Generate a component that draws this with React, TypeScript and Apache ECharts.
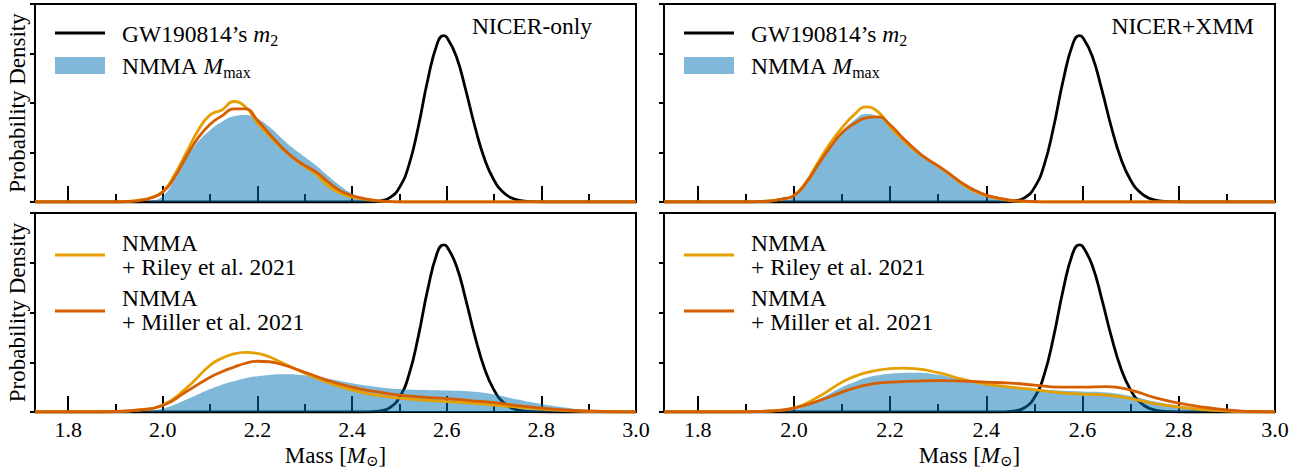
import React, { useEffect, useRef } from 'react';
import * as echarts from 'echarts';

// ---------- data ----------
const MASS_MIN = 1.73;
const MASS_MAX = 3.0;
const massMajorTicks = [1.8, 2.0, 2.2, 2.4, 2.6, 2.8, 3.0];
const massMinorTicks = [1.9, 2.1, 2.3, 2.5, 2.7, 2.9];
const densityTicks = [0, 1, 2, 3, 4];

// GW190814 secondary mass (same in every panel)
const gwMass = [1.73, 2.4, 2.44, 2.46, 2.48, 2.5, 2.52, 2.54, 2.56, 2.58, 2.593, 2.6, 2.62, 2.64, 2.66, 2.68, 2.7, 2.72, 2.74, 2.76, 2.78, 2.82, 3.0];
const gwDensity = [0, 0, 0.004, 0.022, 0.09, 0.29, 0.74, 1.52, 2.47, 3.2, 3.36, 3.33, 2.95, 2.27, 1.51, 0.87, 0.44, 0.19, 0.07, 0.024, 0.006, 0, 0];

// top row mass grid
const massTop = [1.73, 1.9, 1.925, 1.95, 1.975, 2.0, 2.025, 2.05, 2.075, 2.1, 2.125, 2.15, 2.175, 2.2, 2.225, 2.25, 2.275, 2.3, 2.325, 2.35, 2.375, 2.4, 2.425, 2.45, 2.475, 2.5, 2.525, 2.55, 3.0];
// NICER-only (top left)
const nicerOnlyMmax = [0, 0, 0, 0, 0.02, 0.12, 0.45, 0.88, 1.22, 1.45, 1.62, 1.73, 1.76, 1.68, 1.52, 1.3, 1.09, 0.91, 0.73, 0.52, 0.33, 0.17, 0.07, 0.02, 0, 0, 0, 0, 0];
const nicerOnlyRiley = [0, 0, 0.01, 0.04, 0.09, 0.21, 0.55, 1.0, 1.45, 1.76, 1.86, 2.03, 1.92, 1.6, 1.34, 1.1, 0.89, 0.72, 0.55, 0.32, 0.18, 0.1, 0.06, 0.03, 0.01, 0, 0, 0, 0];
const nicerOnlyMiller = [0, 0, 0.01, 0.03, 0.08, 0.2, 0.5, 0.92, 1.3, 1.57, 1.74, 1.88, 1.88, 1.65, 1.38, 1.12, 0.9, 0.74, 0.6, 0.4, 0.23, 0.13, 0.07, 0.03, 0.01, 0, 0, 0, 0];
// NICER+XMM (top right)
const xmmMmax = [0, 0, 0, 0, 0.02, 0.1, 0.38, 0.75, 1.12, 1.42, 1.65, 1.78, 1.72, 1.52, 1.28, 1.06, 0.87, 0.72, 0.56, 0.38, 0.22, 0.13, 0.06, 0.02, 0, 0, 0, 0, 0];
const xmmRiley = [0, 0, 0.01, 0.02, 0.06, 0.13, 0.4, 0.8, 1.18, 1.5, 1.76, 1.92, 1.82, 1.52, 1.27, 1.05, 0.88, 0.72, 0.55, 0.36, 0.22, 0.13, 0.07, 0.03, 0.01, 0, 0, 0, 0];
const xmmMiller = [0, 0, 0.01, 0.02, 0.06, 0.13, 0.38, 0.75, 1.1, 1.4, 1.58, 1.7, 1.72, 1.56, 1.31, 1.08, 0.88, 0.73, 0.56, 0.38, 0.24, 0.14, 0.08, 0.04, 0.02, 0.01, 0, 0, 0];

// bottom row mass grid
const massBottom = [1.73, 1.85, 1.9, 1.95, 2.0, 2.05, 2.1, 2.125, 2.15, 2.175, 2.2, 2.225, 2.25, 2.3, 2.35, 2.4, 2.45, 2.5, 2.55, 2.6, 2.65, 2.7, 2.75, 2.8, 2.85, 2.9, 2.95, 3.0];
// bottom left
const nicerOnlyWideMmax = [0, 0, 0, 0.01, 0.07, 0.25, 0.46, 0.55, 0.62, 0.68, 0.72, 0.745, 0.76, 0.74, 0.67, 0.58, 0.51, 0.46, 0.44, 0.43, 0.41, 0.35, 0.25, 0.16, 0.09, 0.03, 0.005, 0];
const nicerOnlyWideRiley = [0, 0, 0.01, 0.04, 0.14, 0.48, 0.94, 1.08, 1.17, 1.2, 1.18, 1.11, 1.0, 0.78, 0.59, 0.44, 0.34, 0.28, 0.24, 0.21, 0.18, 0.14, 0.1, 0.06, 0.03, 0.01, 0, 0];
const nicerOnlyWideMiller = [0, 0, 0.01, 0.04, 0.13, 0.41, 0.7, 0.81, 0.9, 0.98, 1.02, 1.01, 0.96, 0.8, 0.63, 0.5, 0.41, 0.34, 0.3, 0.27, 0.23, 0.19, 0.13, 0.08, 0.04, 0.02, 0.005, 0];
// bottom right
const xmmWideMmax = [0, 0, 0, 0.01, 0.05, 0.25, 0.5, 0.6, 0.69, 0.74, 0.77, 0.785, 0.79, 0.75, 0.65, 0.56, 0.5, 0.46, 0.43, 0.41, 0.39, 0.32, 0.21, 0.13, 0.07, 0.02, 0.005, 0];
const xmmWideRiley = [0, 0, 0.005, 0.02, 0.08, 0.3, 0.6, 0.71, 0.79, 0.84, 0.87, 0.88, 0.87, 0.79, 0.66, 0.56, 0.5, 0.45, 0.39, 0.36, 0.34, 0.27, 0.17, 0.1, 0.05, 0.02, 0.005, 0];
const xmmWideMiller = [0, 0, 0.005, 0.02, 0.08, 0.22, 0.4, 0.48, 0.54, 0.58, 0.6, 0.61, 0.62, 0.63, 0.62, 0.6, 0.58, 0.54, 0.5, 0.5, 0.51, 0.44, 0.29, 0.18, 0.1, 0.04, 0.01, 0];

// texts
const panelTitles = ['NICER-only', 'NICER+XMM'];
const yAxisTitle = 'Probability Density';
const xAxisTitle = '{r|Mass [}{i|M}{s|⊙}{r|]}';
const legendGW = '{r|GW190814’s }{i|m}{s|2}';
const legendMmax = '{r|NMMA }{i|M}{s|max}';
const legendRiley = ['NMMA', '+ Riley et al. 2021'];
const legendMiller = ['NMMA', '+ Miller et al. 2021'];

// ---------- styling ----------
const SERIF = "'Liberation Serif', 'DejaVu Serif', serif";
const BLUE_FILL = 'rgba(0,114,178,0.5)';
const RILEY = '#E69F00';
const MILLER = '#D55E00';
const LW = 2.8;
const LEGEND_FS = 23.5;

const panels = [
  { left: 35, top: 4, width: 601, height: 198, labels: false, mass: massTop, mmax: nicerOnlyMmax, riley: nicerOnlyRiley, miller: nicerOnlyMiller },
  { left: 664, top: 4, width: 611, height: 198, labels: false, mass: massTop, mmax: xmmMmax, riley: xmmRiley, miller: xmmMiller },
  { left: 35, top: 213, width: 601, height: 199, labels: true, mass: massBottom, mmax: nicerOnlyWideMmax, riley: nicerOnlyWideRiley, miller: nicerOnlyWideMiller },
  { left: 664, top: 213, width: 611, height: 199, labels: true, mass: massBottom, mmax: xmmWideMmax, riley: xmmWideRiley, miller: xmmWideMiller },
];

const pairs = (xs: number[], ys: number[]) => xs.map((x, i) => [x, ys[i]]);

const rich = (size: number, sub: number, pad: number) => ({
  r: { fontFamily: SERIF, fontSize: size, lineHeight: 32, color: '#000' },
  i: { fontFamily: SERIF, fontSize: size, fontStyle: 'italic', lineHeight: 32, color: '#000' },
  s: { fontFamily: SERIF, fontSize: sub, padding: [pad, 0, 0, 0], color: '#000' },
});

function buildOption() {
  const grid: any[] = [];
  const xAxis: any[] = [];
  const yAxis: any[] = [];
  const series: any[] = [];
  const graphic: any[] = [];

  panels.forEach((p, i) => {
    grid.push({
      left: p.left, top: p.top, width: p.width, height: p.height,
      show: true, borderColor: '#000', borderWidth: 2, backgroundColor: 'transparent',
      containLabel: false, outerBoundsMode: 'none',
    });
    xAxis.push({
      type: 'value', gridIndex: i, min: MASS_MIN, max: MASS_MAX, position: 'bottom',
      axisLine: { show: false, onZero: false }, splitLine: { show: false },
      axisTick: { show: true, inside: true, length: 16, lineStyle: { color: '#000', width: 2 }, customValues: massMajorTicks },
      axisLabel: {
        show: p.labels, customValues: massMajorTicks, formatter: (v: number) => v.toFixed(1),
        fontFamily: SERIF, fontSize: 22, color: '#000', margin: 6,
      },
    });
    xAxis.push({
      type: 'value', gridIndex: i, min: MASS_MIN, max: MASS_MAX, position: 'bottom',
      axisLine: { show: false, onZero: false }, splitLine: { show: false },
      axisTick: { show: true, inside: true, length: 8, lineStyle: { color: '#000', width: 2 }, customValues: massMinorTicks },
      axisLabel: { show: false },
    });
    yAxis.push({
      type: 'value', gridIndex: i, min: 0, max: 4, interval: 1,
      axisLine: { show: false }, splitLine: { show: false },
      axisTick: { show: true, inside: false, length: 5, lineStyle: { color: '#000', width: 2 }, customValues: densityTicks },
      axisLabel: { show: false },
    });

    const common = { xAxisIndex: 2 * i, yAxisIndex: i, showSymbol: false, symbol: 'none', smooth: 0.5, silent: true };
    series.push({ ...common, type: 'line', name: 'GW190814', data: pairs(gwMass, gwDensity), lineStyle: { color: '#000', width: LW }, z: 2 });
    series.push({ ...common, type: 'line', name: 'NMMA Mmax', data: pairs(p.mass, p.mmax), lineStyle: { width: 0, color: BLUE_FILL }, areaStyle: { color: BLUE_FILL, opacity: 1 }, z: 3 });
    series.push({ ...common, type: 'line', name: 'Riley', data: pairs(p.mass, p.riley), lineStyle: { color: RILEY, width: LW }, z: 4 });
    series.push({ ...common, type: 'line', name: 'Miller', data: pairs(p.mass, p.miller), lineStyle: { color: MILLER, width: LW }, z: 5 });

    const lx1 = p.left + 20;
    const lx2 = p.left + 70;
    const tx = p.left + 87;
    if (i < 2) {
      graphic.push({ type: 'line', shape: { x1: lx1, y1: 33, x2: lx2, y2: 33 }, style: { stroke: '#000', lineWidth: LW } });
      graphic.push({ type: 'rect', shape: { x: lx1, y: 57, width: 50, height: 17 }, style: { fill: BLUE_FILL } });
      graphic.push({ type: 'text', x: tx, y: 34, style: { text: legendGW, rich: rich(LEGEND_FS, 16, 12), align: 'left', verticalAlign: 'middle' } });
      graphic.push({ type: 'text', x: tx, y: 66, style: { text: legendMmax, rich: rich(LEGEND_FS, 16, 12), align: 'left', verticalAlign: 'middle' } });
      graphic.push({
        type: 'text', x: i === 0 ? 592 : 1254, y: 26,
        style: { text: panelTitles[i], fontFamily: SERIF, fontSize: LEGEND_FS, fill: '#000', align: 'right', verticalAlign: 'middle' },
      });
    } else {
      graphic.push({ type: 'line', shape: { x1: lx1, y1: 255, x2: lx2, y2: 255 }, style: { stroke: RILEY, lineWidth: LW } });
      graphic.push({ type: 'line', shape: { x1: lx1, y1: 311, x2: lx2, y2: 311 }, style: { stroke: MILLER, lineWidth: LW } });
      const rows = [
        [legendRiley[0], 243], [legendRiley[1], 266.5],
        [legendMiller[0], 298], [legendMiller[1], 321.5],
      ];
      rows.forEach(([t, y]) => {
        graphic.push({ type: 'text', x: tx, y: y as number, style: { text: t as string, fontFamily: SERIF, fontSize: LEGEND_FS, fill: '#000', align: 'left', verticalAlign: 'middle' } });
      });
      graphic.push({
        type: 'text', x: p.left + p.width / 2, y: 455,
        style: { text: xAxisTitle, rich: rich(23, 15, 11), align: 'center', verticalAlign: 'middle' },
      });
    }
    if (i % 2 === 0) {
      graphic.push({
        type: 'text', x: 17, y: p.top + p.height / 2, rotation: Math.PI / 2,
        style: { text: yAxisTitle, fontFamily: SERIF, fontSize: 23, fill: '#000', align: 'center', verticalAlign: 'middle' },
      });
    }
  });

  return {
    animation: false,
    textStyle: { fontFamily: SERIF },
    grid, xAxis, yAxis, series, graphic,
  };
}

export default function App() {
  const ref = useRef<HTMLDivElement>(null);
  useEffect(() => {
    if (!ref.current) return;
    const chart = echarts.init(ref.current, null, { renderer: 'svg' });
    chart.setOption(buildOption() as any);
    return () => chart.dispose();
  }, []);
  return (
    <div
      ref={ref}
      style={{ position: 'fixed', left: 0, top: 0, width: 1313, height: 472, background: '#fff' }}
    />
  );
}
